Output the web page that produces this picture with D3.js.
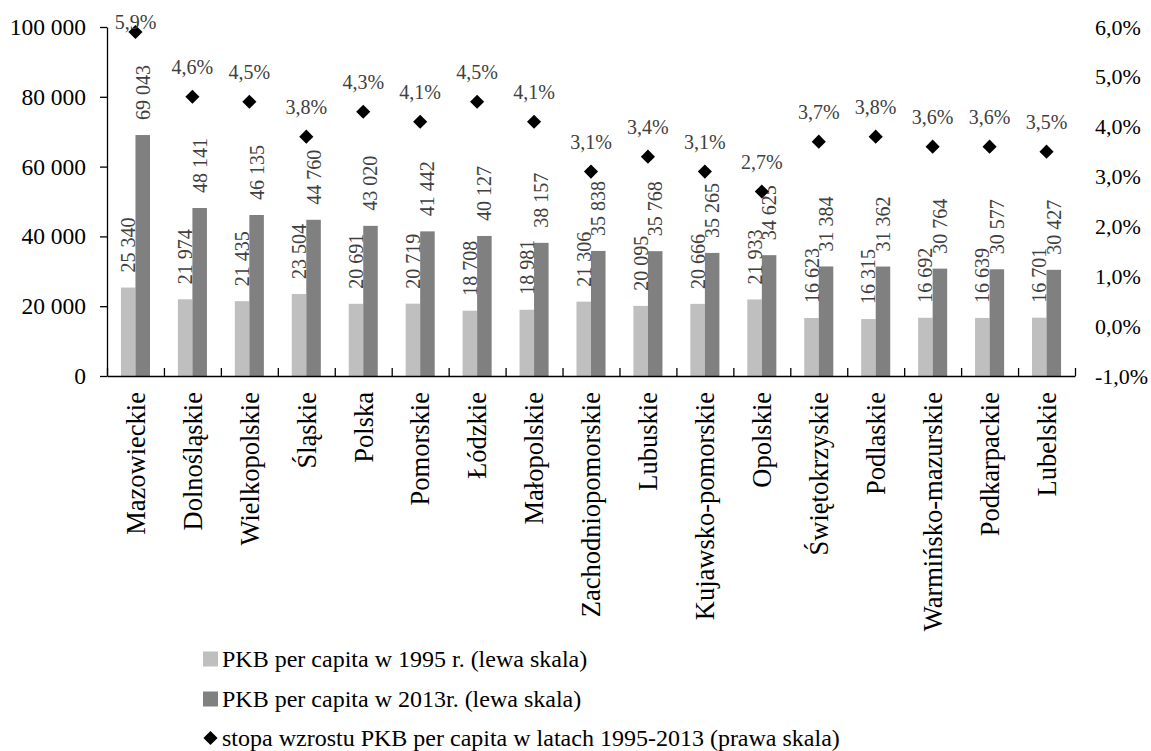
<!DOCTYPE html>
<html>
<head>
<meta charset="utf-8">
<script src="https://cdn.jsdelivr.net/npm/d3@7"></script>
<style>
  html, body { margin: 0; padding: 0; background: #fff; }
  svg { display: block; font-family: "Liberation Serif", "Times New Roman", serif; }
</style>
</head>
<body>
<div id="chart"></div>
<script>
// Regions ordered as in the source chart
const regions = [
  'Mazowieckie', 'Dolnośląskie', 'Wielkopolskie', 'Śląskie', 'Polska', 'Pomorskie',
  'Łódzkie', 'Małopolskie', 'Zachodniopomorskie', 'Lubuskie', 'Kujawsko-pomorskie',
  'Opolskie', 'Świętokrzyskie', 'Podlaskie', 'Warmińsko-mazurskie', 'Podkarpackie', 'Lubelskie'
];
const gdp1995 = [25340, 21974, 21435, 23504, 20691, 20719, 18708, 18981, 21306, 20095, 20666, 21933, 16623, 16315, 16692, 16639, 16701];
const gdp2013 = [69043, 48141, 46135, 44760, 43020, 41442, 40127, 38157, 35838, 35768, 35265, 34625, 31384, 31362, 30764, 30577, 30427];
const growth = [5.9, 4.6, 4.5, 3.8, 4.3, 4.1, 4.5, 4.1, 3.1, 3.4, 3.1, 2.7, 3.7, 3.8, 3.6, 3.6, 3.5];

const leftTicks = [0, 20000, 40000, 60000, 80000, 100000];
const rightTicks = [-1, 0, 1, 2, 3, 4, 5, 6];
const legendLabels = [
  'PKB per capita w 1995 r. (lewa skala)',
  'PKB per capita w 2013r. (lewa skala)',
  'stopa wzrostu PKB per capita w latach 1995-2013 (prawa skala)'
];

const width = 1151, height = 751;
const plot = { left: 107, right: 1075, top: 27, bottom: 376 };
const colors = { y1995: '#bfbfbf', y2013: '#808080', label: '#404040' };
const serif = '"Liberation Serif", "Times New Roman", serif';

const pl = d3.formatLocale({ decimal: ',', thousands: ' ', grouping: [3], currency: ['', ' zł'], minus: '-' });
const fmtInt = pl.format(',d');
const fmtPct = d => pl.format('.1f')(d) + '%';

const svg = d3.select('#chart').append('svg')
  .attr('width', width)
  .attr('height', height)
  .attr('viewBox', `0 0 ${width} ${height}`);

// Scales
const x = d3.scaleBand().domain(regions).range([plot.left, plot.right]).paddingInner(0).paddingOuter(0);
const xSub = d3.scaleBand().domain(['y1995', 'y2013']).range([0, x.bandwidth()]).paddingInner(0).paddingOuter(0.96);
const yLeft = d3.scaleLinear().domain([0, 100000]).range([plot.bottom, plot.top]);
const yRight = d3.scaleLinear().domain([-1, 6]).range([plot.bottom, plot.top]);

const rows = regions.map((r, i) => ({ region: r, v1995: gdp1995[i], v2013: gdp2013[i], rate: growth[i] }));

// Bars
const series = [
  { key: 'y1995', get: d => d.v1995 },
  { key: 'y2013', get: d => d.v2013 }
];
series.forEach(s => {
  svg.append('g').selectAll('rect')
    .data(rows)
    .join('rect')
    .attr('x', d => x(d.region) + xSub(s.key))
    .attr('y', d => yLeft(s.get(d)))
    .attr('width', xSub.bandwidth())
    .attr('height', d => yLeft(0) - yLeft(s.get(d)))
    .attr('fill', colors[s.key]);
});

// Bar value labels (rotated)
series.forEach(s => {
  svg.append('g').selectAll('text')
    .data(rows)
    .join('text')
    .attr('transform', d => `translate(${x(d.region) + xSub(s.key) + xSub.bandwidth() / 2},${yLeft(s.get(d)) - 15}) rotate(-90)`)
    .attr('dy', '0.35em')
    .attr('text-anchor', 'start')
    .attr('font-size', 20)
    .attr('fill', colors.label)
    .text(d => fmtInt(s.get(d)));
});

// Left axis
const axL = svg.append('g')
  .attr('transform', `translate(${plot.left},0)`)
  .call(d3.axisLeft(yLeft).tickValues(leftTicks).tickFormat(fmtInt).tickSize(7).tickSizeOuter(0).tickPadding(14))
  .attr('font-family', serif)
  .attr('font-size', 23.5);
axL.selectAll('text').attr('fill', '#000');
axL.selectAll('line, path').attr('stroke', '#000').attr('stroke-width', 1.3);

// Bottom axis: category boundaries, ticks pointing up
const xBound = d3.scaleLinear().domain([0, regions.length]).range([plot.left, plot.right]);
const axB = svg.append('g')
  .attr('transform', `translate(0,${plot.bottom})`)
  .call(d3.axisTop(xBound).tickValues(d3.range(regions.length + 1)).tickFormat('').tickSize(8).tickSizeOuter(0));
axB.selectAll('line, path').attr('stroke', '#000').attr('stroke-width', 1.3);

// Category labels
svg.append('g').selectAll('text')
  .data(regions)
  .join('text')
  .attr('transform', d => `translate(${x(d) + x.bandwidth() / 2},${plot.bottom + 16}) rotate(-90)`)
  .attr('dy', '0.35em')
  .attr('text-anchor', 'end')
  .attr('font-size', 26.5)
  .attr('fill', '#000')
  .text(d => d);

// Right axis (labels only)
const axR = svg.append('g')
  .attr('transform', `translate(${plot.right},0)`)
  .call(d3.axisRight(yRight).tickValues(rightTicks).tickFormat(fmtPct).tickSize(0).tickPadding(20))
  .attr('font-family', serif)
  .attr('font-size', 22);
axR.select('.domain').remove();
axR.selectAll('text').attr('fill', '#000');

// Growth markers
const diamond = d3.symbol().type(d3.symbolSquare).size(100);
svg.append('g').selectAll('path')
  .data(rows)
  .join('path')
  .attr('d', diamond)
  .attr('transform', d => `translate(${x(d.region) + x.bandwidth() / 2},${yRight(d.rate)}) rotate(45)`)
  .attr('fill', '#000');

svg.append('g').selectAll('text')
  .data(rows)
  .join('text')
  .attr('x', d => x(d.region) + x.bandwidth() / 2)
  .attr('y', d => Math.max(yRight(d.rate) - 23, 29))
  .attr('text-anchor', 'middle')
  .attr('font-size', 20)
  .attr('fill', colors.label)
  .text(d => fmtPct(d.rate));

// Legend
const legend = svg.append('g').attr('transform', 'translate(203,0)');
const legendY = [659, 699, 738];
legend.append('rect').attr('x', 0).attr('y', legendY[0] - 7.5).attr('width', 15).attr('height', 15).attr('fill', colors.y1995);
legend.append('rect').attr('x', 0).attr('y', legendY[1] - 7.5).attr('width', 15).attr('height', 15).attr('fill', colors.y2013);
legend.append('path').attr('d', diamond).attr('transform', `translate(7.5,${legendY[2]}) rotate(45)`).attr('fill', '#000');
legend.selectAll('text.leg')
  .data(legendLabels)
  .join('text')
  .attr('class', 'leg')
  .attr('x', 19)
  .attr('y', (d, i) => legendY[i])
  .attr('dy', '0.33em')
  .attr('font-size', 24)
  .attr('fill', '#000')
  .text(d => d);
</script>
</body>
</html>
